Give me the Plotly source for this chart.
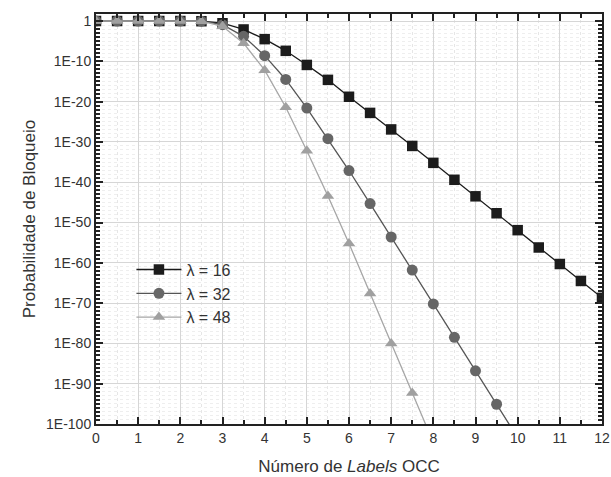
import plotly.graph_objects as go

# Data (log10 of blocking probability)
x_vals = [0, 0.5, 1, 1.5, 2, 2.5, 3, 3.5, 4, 4.5, 5, 5.5, 6, 6.5, 7, 7.5, 8, 8.5, 9, 9.5, 10, 10.5, 11, 11.5, 12]
log_l16 = [0, 0, 0, 0, 0, -0.05, -0.55, -2.1, -4.5, -7.4, -10.9, -14.6, -18.8, -22.8, -26.9, -31.0,
           -35.2, -39.4, -43.5, -47.7, -51.9, -56.2, -60.3, -64.5, -68.7]
x_l32 = [0, 0.5, 1, 1.5, 2, 2.5, 3, 3.5, 4, 4.5, 5, 5.5, 6, 6.5, 7, 7.5, 8, 8.5, 9, 9.5, 10]
log_l32 = [0, 0, 0, 0, 0, -0.05, -0.9, -3.8, -8.6, -14.5, -21.6, -29.2, -37.1, -45.3, -53.6, -61.8,
           -70.2, -78.5, -86.8, -95.1, -103.4]
x_l48 = [0, 0.5, 1, 1.5, 2, 2.5, 3, 3.5, 4, 4.5, 5, 5.5, 6, 6.5, 7, 7.5, 8]
log_l48 = [0, 0, 0, 0, 0, -0.05, -1.3, -5.5, -12.2, -21.4, -32.2, -43.4, -55.2, -67.6, -80.0, -92.3, -104.6]

series_names = ["λ = 16", "λ = 32", "λ = 48"]
y_tick_exps = [0, -10, -20, -30, -40, -50, -60, -70, -80, -90, -100]
y_tick_text = ["1", "1E-10", "1E-20", "1E-30", "1E-40", "1E-50", "1E-60", "1E-70", "1E-80", "1E-90", "1E-100"]
x_tick_vals = list(range(0, 13))

font_family = "Liberation Sans"

fig = go.Figure()
fig.add_trace(go.Scatter(
    x=x_vals, y=[10 ** v for v in log_l16], name=series_names[0], mode="lines+markers",
    line=dict(color="#1a1a1a", width=1.3),
    marker=dict(symbol="square", size=10.5, color="#1c1c1c", line=dict(width=0)),
    cliponaxis=True))
fig.add_trace(go.Scatter(
    x=x_l32, y=[10 ** v for v in log_l32], name=series_names[1], mode="lines+markers",
    line=dict(color="#555555", width=1.3),
    marker=dict(symbol="circle", size=11, color="#666666", line=dict(width=0)),
    cliponaxis=True))
fig.add_trace(go.Scatter(
    x=x_l48, y=[10 ** v for v in log_l48], name=series_names[2], mode="lines+markers",
    line=dict(color="#a6a6a6", width=1.3),
    marker=dict(symbol="triangle-up", size=11, color="#a0a0a0", line=dict(width=0)),
    cliponaxis=True))

fig.update_layout(
    width=611, height=477,
    margin=dict(l=96, r=9, t=14, b=53),
    paper_bgcolor="white", plot_bgcolor="white",
    font=dict(family=font_family, color="#333333", size=14),
    showlegend=True,
    legend=dict(x=0.07, y=0.418, xanchor="left", yanchor="top",
                bgcolor="rgba(0,0,0,0)", borderwidth=0,
                font=dict(size=16, color="#333333"), itemwidth=45, tracegroupgap=0),
)

fig.update_xaxes(
    range=[0, 12], tickvals=x_tick_vals, ticks="inside", ticklen=7, tickwidth=1.5,
    tickcolor="#222222", showline=True, linecolor="#222222", linewidth=2, mirror="ticks",
    showgrid=True, gridcolor="#d6d6d6", gridwidth=1,
    minor=dict(dtick=0.5, ticks="inside", ticklen=4, tickcolor="#222222",
               showgrid=True, gridcolor="#e6e6e6", griddash="dot", gridwidth=1),
    zeroline=False, tickfont=dict(size=14, color="#333333"),
    title=dict(text="Número de <i>Labels</i> OCC", font=dict(size=17, color="#333333"), standoff=15),
    automargin=False,
)
fig.update_yaxes(
    type="log", range=[-100, 1.74],
    tickvals=[10 ** e for e in y_tick_exps], ticktext=y_tick_text,
    ticks="inside", ticklen=7, tickwidth=1.5, tickcolor="#222222",
    showline=True, linecolor="#222222", linewidth=2, mirror="ticks",
    showgrid=True, gridcolor="#d6d6d6", gridwidth=1,
    minor=dict(tickvals=[10.0 ** (-k) for k in range(0, 101)], ticks="inside", ticklen=4,
               tickcolor="#222222", showgrid=True, gridcolor="#eeeeee", griddash="dot", gridwidth=1),
    zeroline=False, tickfont=dict(size=14, color="#333333"),
    title=dict(text="Probabilidade de Bloqueio", font=dict(size=17, color="#333333"), standoff=6),
    automargin=False,
)

fig.write_html("out.html", config={"displayModeBar": False},
               post_script="document.body.style.margin='0px';document.body.style.padding='0px';")
